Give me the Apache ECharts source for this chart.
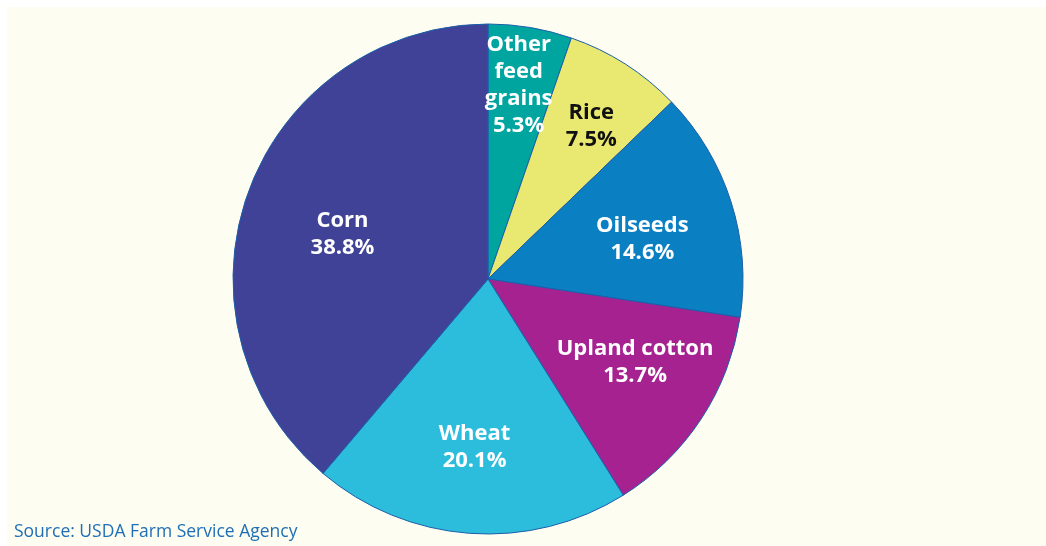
<!DOCTYPE html>
<html>
<head>
<meta charset="utf-8">
<script src="https://cdn.jsdelivr.net/npm/echarts@6/dist/echarts.min.js"></script>
<style>
  html, body { margin: 0; padding: 0; background: #fff; }
  #chart { width: 1046px; height: 546px; }
</style>
</head>
<body>
<div id="chart"></div>
<script>
// crops, clockwise from 12 o'clock
var crops = ['Other\nfeed\ngrains', 'Rice', 'Oilseeds', 'Upland cotton', 'Wheat', 'Corn']
var shares = [5.3, 7.5, 14.6, 13.7, 20.1, 38.8]
var colors = ['#00a59f', '#e9e870', '#0a80c3', '#a52290', '#2dbddc', '#3f4297']
var labelColors = ['#fff', '#111', '#fff', '#fff', '#fff', '#fff']
// nudge labels outward like the original
var labelShift = [[9, -65], [33, -43], [30, 0], [38, 12], [-4, 38], [-23, 0]]

var myChart = echarts.init(document.getElementById('chart'))
var option = {
  animation: false,
  graphic: [
    {
      type: 'rect',
      z: -10,
      shape: { x: 7, y: 7, width: 1039, height: 539 },
      style: { fill: '#fdfdf1' }
    },
    {
      type: 'text',
      left: 14,
      top: 523,
      style: {
        text: 'Source: USDA Farm Service Agency',
        fill: '#1f6fb6',
        font: '17.5px "Open Sans"'
      }
    }
  ],
  series: [
    {
      type: 'pie',
      center: [488, 279],
      radius: 255,
      startAngle: 90,
      clockwise: true,
      itemStyle: {
        borderColor: '#1b5fa9',
        borderWidth: 1
      },
      label: {
        position: 'inside',
        fontFamily: 'Open Sans',
        fontWeight: 'bold',
        fontSize: 22,
        lineHeight: 27,
        formatter: function(p) {
          return p.name + '\n' + p.value.toFixed(1) + '%'
        }
      },
      labelLayout: function(params) {
        var s = labelShift[params.dataIndex]
        return { dx: s[0], dy: s[1] }
      },
      data: crops.map(function(c, i) {
        return {
          name: c,
          value: shares[i],
          itemStyle: { color: colors[i] },
          label: { color: labelColors[i] }
        }
      })
    }
  ]
}
myChart.setOption(option)
</script>
</body>
</html>
